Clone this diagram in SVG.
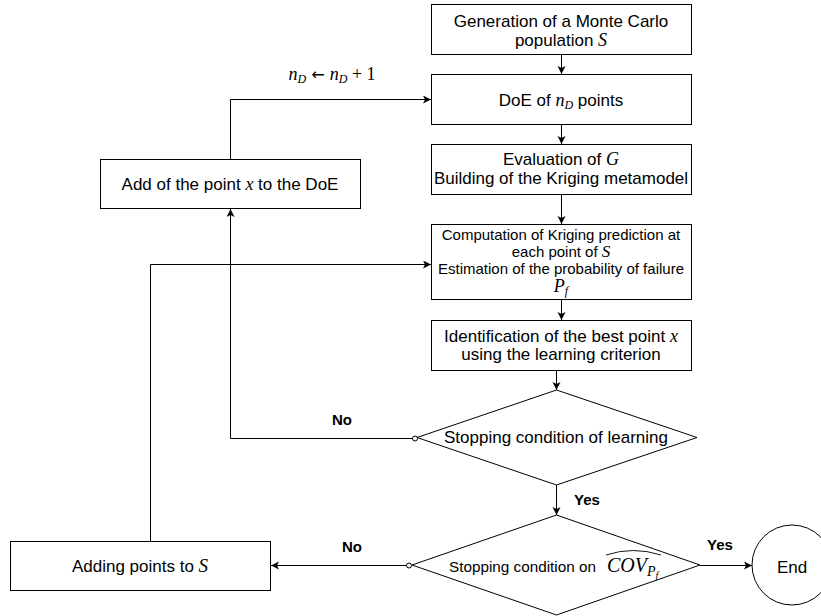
<svg xmlns="http://www.w3.org/2000/svg" width="821" height="616" viewBox="0 0 821 616">
<style>
.box{fill:#fff;stroke:#000;stroke-width:1}
.t{font-family:"Liberation Sans",Arial,Helvetica,sans-serif;font-size:17px;fill:#000}
.s15{font-size:15px}
.m{font-family:"Liberation Serif","Times New Roman",serif;font-style:italic}
.r{font-family:"Liberation Serif","Times New Roman",serif;font-style:normal}
.c{fill:none;stroke:#000;stroke-width:1}
.lbl{font-weight:bold;font-size:15px}
</style>
<defs>
<marker id="arr" markerWidth="10" markerHeight="10" refX="8" refY="4" orient="auto" markerUnits="userSpaceOnUse"><path d="M0,0 L8,4 L0,8 L2,4 Z" fill="#000"/></marker>
<marker id="dot" markerWidth="8" markerHeight="8" refX="4" refY="4" markerUnits="userSpaceOnUse"><circle cx="4" cy="4" r="2.5" fill="#fff" stroke="#000" stroke-width="1"/></marker>
</defs>
<g id="connectors">
<path class="c" d="M561.5,54.5 V74" marker-end="url(#arr)"/>
<path class="c" d="M561.5,124.5 V144" marker-end="url(#arr)"/>
<path class="c" d="M561.5,194.5 V224" marker-end="url(#arr)"/>
<path class="c" d="M561.5,299.5 V320" marker-end="url(#arr)"/>
<path class="c" d="M556.5,370.5 V390" marker-end="url(#arr)"/>
<path class="c" d="M556.5,485 V515" marker-end="url(#arr)"/>
<path class="c" d="M415,438.5 H230.5 V209" marker-start="url(#dot)" marker-end="url(#arr)"/>
<path class="c" d="M230.5,159 V99.5 H431" marker-end="url(#arr)"/>
<path class="c" d="M409,565.5 H271" marker-start="url(#dot)" marker-end="url(#arr)"/>
<path class="c" d="M150.5,541 V264.5 H431" marker-end="url(#arr)"/>
<path class="c" d="M700,565.5 H752" marker-end="url(#arr)"/>
<text class="t" x="332" y="80" text-anchor="middle"><tspan class="m" font-size="18">n</tspan><tspan class="m" font-size="12" dy="3">D</tspan><tspan font-family="'DejaVu Sans',sans-serif" font-size="16" dy="-3"> ← </tspan><tspan class="m" font-size="18">n</tspan><tspan class="m" font-size="12" dy="3">D</tspan><tspan class="r" font-size="18" dy="-3"> + 1</tspan></text>
<text class="t lbl" x="342" y="425" text-anchor="middle">No</text>
<text class="t lbl" x="587" y="505" text-anchor="middle">Yes</text>
<text class="t lbl" x="352" y="552" text-anchor="middle">No</text>
<text class="t lbl" x="720" y="550" text-anchor="middle">Yes</text>
</g>
<g id="generation">
<rect class="box" x="431.5" y="4.5" width="260" height="50"/>
<text class="t" x="561" y="27" text-anchor="middle">Generation of a Monte Carlo</text>
<text class="t" x="561" y="46" text-anchor="middle">population <tspan class="m" font-size="18">S</tspan></text>
</g>
<g id="doe">
<rect class="box" x="431.5" y="74.5" width="260" height="50"/>
<text class="t" x="561" y="106" text-anchor="middle">DoE of <tspan class="m" font-size="18">n</tspan><tspan class="m" font-size="12" dy="3">D</tspan><tspan dy="-3"> points</tspan></text>
</g>
<g id="evaluation">
<rect class="box" x="431.5" y="144.5" width="260" height="50"/>
<text class="t" x="561" y="165" text-anchor="middle">Evaluation of <tspan class="m" font-size="18">G</tspan></text>
<text class="t" x="561" y="184" text-anchor="middle">Building of the Kriging metamodel</text>
</g>
<g id="computation">
<rect class="box" x="431.5" y="224.5" width="260" height="75"/>
<text class="t s15" x="561" y="240" text-anchor="middle">Computation of Kriging prediction at</text>
<text class="t s15" x="561" y="257" text-anchor="middle">each point of <tspan class="m" font-size="17">S</tspan></text>
<text class="t s15" x="561" y="274" text-anchor="middle">Estimation of the probability of failure</text>
<text class="t s15" x="561" y="292" text-anchor="middle"><tspan class="m" font-size="18">P</tspan><tspan class="m" font-size="12" dy="3">f</tspan></text>
</g>
<g id="identification">
<rect class="box" x="431.5" y="320.5" width="260" height="50"/>
<text class="t" x="561" y="341.5" text-anchor="middle">Identification of the best point <tspan class="m" font-size="18">x</tspan></text>
<text class="t" x="561" y="360" text-anchor="middle">using the learning criterion</text>
</g>
<g id="add-point">
<rect class="box" x="100.5" y="159.5" width="260" height="49"/>
<text class="t" x="230" y="190" text-anchor="middle">Add of the point <tspan class="m" font-size="18">x</tspan> to the DoE</text>
</g>
<g id="stop-learning">
<path class="box" d="M556.5,390 L697,437.5 L556.5,485 L417,437.5 Z"/>
<text class="t" x="556" y="443" text-anchor="middle">Stopping condition of learning</text>
</g>
<g id="stop-cov">
<path class="box" d="M556.5,515 L700,565 L556.5,615 L412,565 Z"/>
<text class="t" x="449" y="572"><tspan font-size="14.5" textLength="147" lengthAdjust="spacingAndGlyphs">Stopping condition on</tspan><tspan class="m" font-size="20" x="607">COV</tspan><tspan class="m" font-size="14" dy="4">P</tspan><tspan class="m" font-size="10" dy="3">f</tspan></text>
<path d="M606,555 Q633,546 661,555" fill="none" stroke="#000" stroke-width="0.9"/>
</g>
<g id="adding-points">
<rect class="box" x="10.5" y="541.5" width="260" height="49"/>
<text class="t" x="140" y="572" text-anchor="middle">Adding points to <tspan class="m" font-size="19">S</tspan></text>
</g>
<g id="end">
<circle class="box" cx="792" cy="565" r="40"/>
<text class="t" x="792" y="573" text-anchor="middle">End</text>
</g>
</svg>
